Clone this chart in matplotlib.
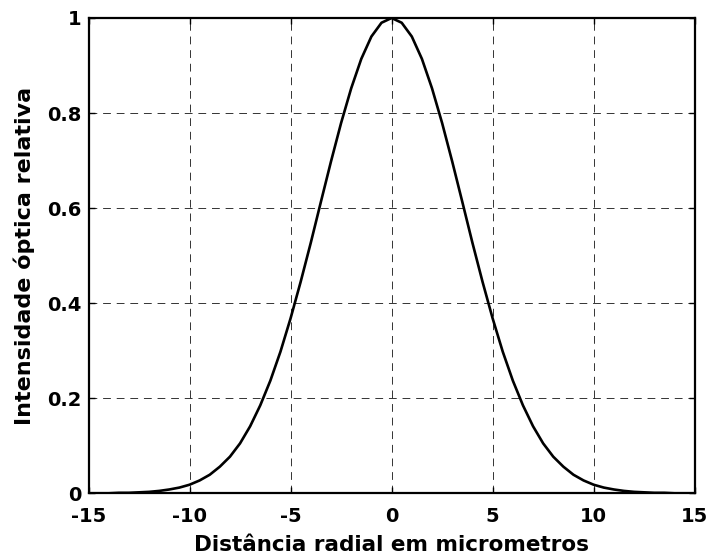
import matplotlib
matplotlib.use("Agg")
import matplotlib.pyplot as plt

# Radial distance (micrometers) and relative optical intensity
x_um = [-15.0, -14.5, -14.0, -13.5, -13.0, -12.5, -12.0, -11.5, -11.0, -10.5,
        -10.0, -9.5, -9.0, -8.5, -8.0, -7.5, -7.0, -6.5, -6.0, -5.5,
        -5.0, -4.5, -4.0, -3.5, -3.0, -2.5, -2.0, -1.5, -1.0, -0.5,
        0.0, 0.5, 1.0, 1.5, 2.0, 2.5, 3.0, 3.5, 4.0, 4.5,
        5.0, 5.5, 6.0, 6.5, 7.0, 7.5, 8.0, 8.5, 9.0, 9.5,
        10.0, 10.5, 11.0, 11.5, 12.0, 12.5, 13.0, 13.5, 14.0, 14.5, 15.0]
intensity = [0.000, 0.000, 0.000, 0.001, 0.001, 0.002, 0.003, 0.005, 0.008, 0.012,
             0.018, 0.027, 0.039, 0.056, 0.077, 0.105, 0.141, 0.185, 0.237, 0.298,
             0.368, 0.445, 0.527, 0.613, 0.698, 0.779, 0.852, 0.914, 0.961, 0.990,
             1.000, 0.990, 0.961, 0.914, 0.852, 0.779, 0.698, 0.613, 0.527, 0.445,
             0.368, 0.298, 0.237, 0.185, 0.141, 0.105, 0.077, 0.056, 0.039, 0.027,
             0.018, 0.012, 0.008, 0.005, 0.003, 0.002, 0.001, 0.001, 0.000, 0.000, 0.000]

x_ticks = [-15, -10, -5, 0, 5, 10, 15]
x_tick_labels = ["-15", "-10", "-5", "0", "5", "10", "15"]
y_ticks = [0, 0.2, 0.4, 0.6, 0.8, 1]
y_tick_labels = ["0", "0.2", "0.4", "0.6", "0.8", "1"]
x_label = "Distância radial em micrometros"
y_label = "Intensidade óptica relativa"

plt.rcParams['font.family'] = ['DejaVu Sans']
plt.rcParams['font.weight'] = 'bold'

fig = plt.figure(figsize=(7.12, 5.57), dpi=100)
ax = fig.add_axes([0.1243, 0.1144, 0.8514, 0.8533])

ax.plot(x_um, intensity, color='black', lw=1.9, zorder=3)

ax.set_xlim(-15, 15)
ax.set_ylim(0, 1)
ax.set_xticks(x_ticks)
ax.set_xticklabels(x_tick_labels, fontsize=14, fontweight='bold')
ax.set_yticks(y_ticks)
ax.set_yticklabels(y_tick_labels, fontsize=14, fontweight='bold')

ax.tick_params(direction='in', length=4, width=1, top=True, right=True)
ax.tick_params(axis='x', pad=10)
ax.tick_params(axis='y', pad=5)
for s in ax.spines.values():
    s.set_linewidth(1.6)

ax.grid(True, color='#333333', lw=0.7, linestyle=(0, (8, 6)))
ax.set_axisbelow(True)

ax.set_xlabel(x_label, fontsize=15.5, fontweight='bold', labelpad=6)
ax.set_ylabel(y_label, fontsize=16, fontweight='bold', labelpad=9)

fig.savefig("out.png", dpi=100)
